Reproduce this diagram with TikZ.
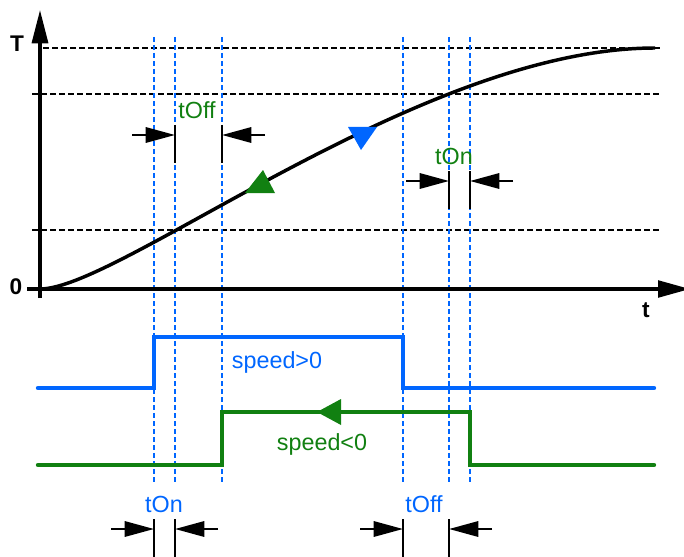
\documentclass[tikz,border=0pt]{standalone}
\usepackage{fontspec}
\setmainfont{Liberation Sans}
\definecolor{SigBlue}{RGB}{0, 102, 255}
\definecolor{SigGreen}{RGB}{17, 128, 17}
\usetikzlibrary{arrows.meta, positioning, calc}

\begin{document}
\begin{tikzpicture}[
      x=0.75pt, y=-0.75pt,
      font=\fontsize{17.5}{20}\selectfont,
      axis/.style={line width=2.5pt, -{Triangle[length=25pt, width=12pt]}},
      level/.style={black, line width=1.35pt, dash pattern=on 4.5pt off 2.25pt},
      marker/.style={SigBlue, line width=1.3pt, dash pattern=on 3.75pt off 2.25pt},
      sig/.style={line width=3.3pt, line cap=round},
      tickmark/.style={line width=1.7pt},
      dimarrow/.style={line width=1.7pt, -{Triangle[length=22pt, width=11.5pt]}},
      lbl/.style={anchor=base, inner sep=0pt},
      axlbl/.style={font=\fontsize{17}{19}\selectfont\bfseries, inner sep=0pt}
    ]
      \useasboundingbox (0,0) rectangle (684,556);
      % switching instants (px)
      \def\tA{154} \def\tB{175} \def\tC{222} \def\tD{403} \def\tE{449} \def\tF{470}
      % threshold levels
      \draw[level] (43,48) -- (660,48);
      \draw[level] (32,94) -- (660,94);
      \draw[level] (32,230) -- (660,230);
      \foreach \t in {\tA,\tB,\tC,\tD,\tE,\tF}
        \draw[marker] (\t,37) -- (\t,482);
      % axes
      \coordinate (origin) at (40,289);
      \coordinate (ytop) at (40,10);
      \coordinate (ybot) at (40,298);
      \coordinate (xleft) at (27,289);
      \coordinate (xright) at (690,289);
      \draw[axis] (ybot) -- (ytop);
      \draw[axis, -{Triangle[length=24pt, width=12.5pt]}] (xleft) -- (xright);
      \node[axlbl] (lblT) at (17,44) {T};
      \node[axlbl] (lbl0) at (16,287) {0};
      \node[axlbl] (lblt) at (646,310) {t};
      % temperature curve with direction marks
      \coordinate (top) at (655,48);
      \draw[line width=2.6pt] (origin) .. controls (120,289) and (420,48) .. (top);
      \fill[SigGreen] (263,170) -- (245,193) -- (275,193) -- cycle;
      \fill[SigBlue] (348,127) -- (377,127) -- (361,150) -- cycle;
      % speed signals
      \draw[sig, SigBlue] (38,388) -- (\tA,388) -- (\tA,337) -- (\tD,337) -- (\tD,388) -- (654,388);
      \draw[sig, SigGreen] (38,465) -- (\tC,465) -- (\tC,412) -- (\tF,412) -- (\tF,465) -- (654,465);
      \fill[SigGreen] (317,412) -- (341,399) -- (341,425) -- cycle;
      \node[lbl, text=SigBlue] (pos) at (277,368) {speed>0};
      \node[lbl, text=SigGreen] (neg) at (322,450) {speed<0};
      % delay dimensions
      \foreach \xl/\xr/\yy/\lx/\txt/\col [count=\i] in
          {\tB/\tC/135/197/tOff/SigGreen, \tE/\tF/181/454/tOn/SigGreen,
           \tA/\tB/529/164/tOn/SigBlue, \tD/\tE/529/424/tOff/SigBlue} {
        \coordinate (l\i) at (\xl,\yy);
        \coordinate (r\i) at (\xr,\yy);
        \draw[tickmark] ($(l\i)+(0,-10)$) -- ($(l\i)+(0,28)$);
        \draw[tickmark] ($(r\i)+(0,-10)$) -- ($(r\i)+(0,28)$);
        \draw[dimarrow] ($(l\i)+(-43,0)$) -- (l\i);
        \draw[dimarrow] ($(r\i)+(43,0)$) -- (r\i);
        \node[lbl, text=\col] (d\i) at (\lx,\yy-17) {\txt};
      }
    \end{tikzpicture}
\end{document}
